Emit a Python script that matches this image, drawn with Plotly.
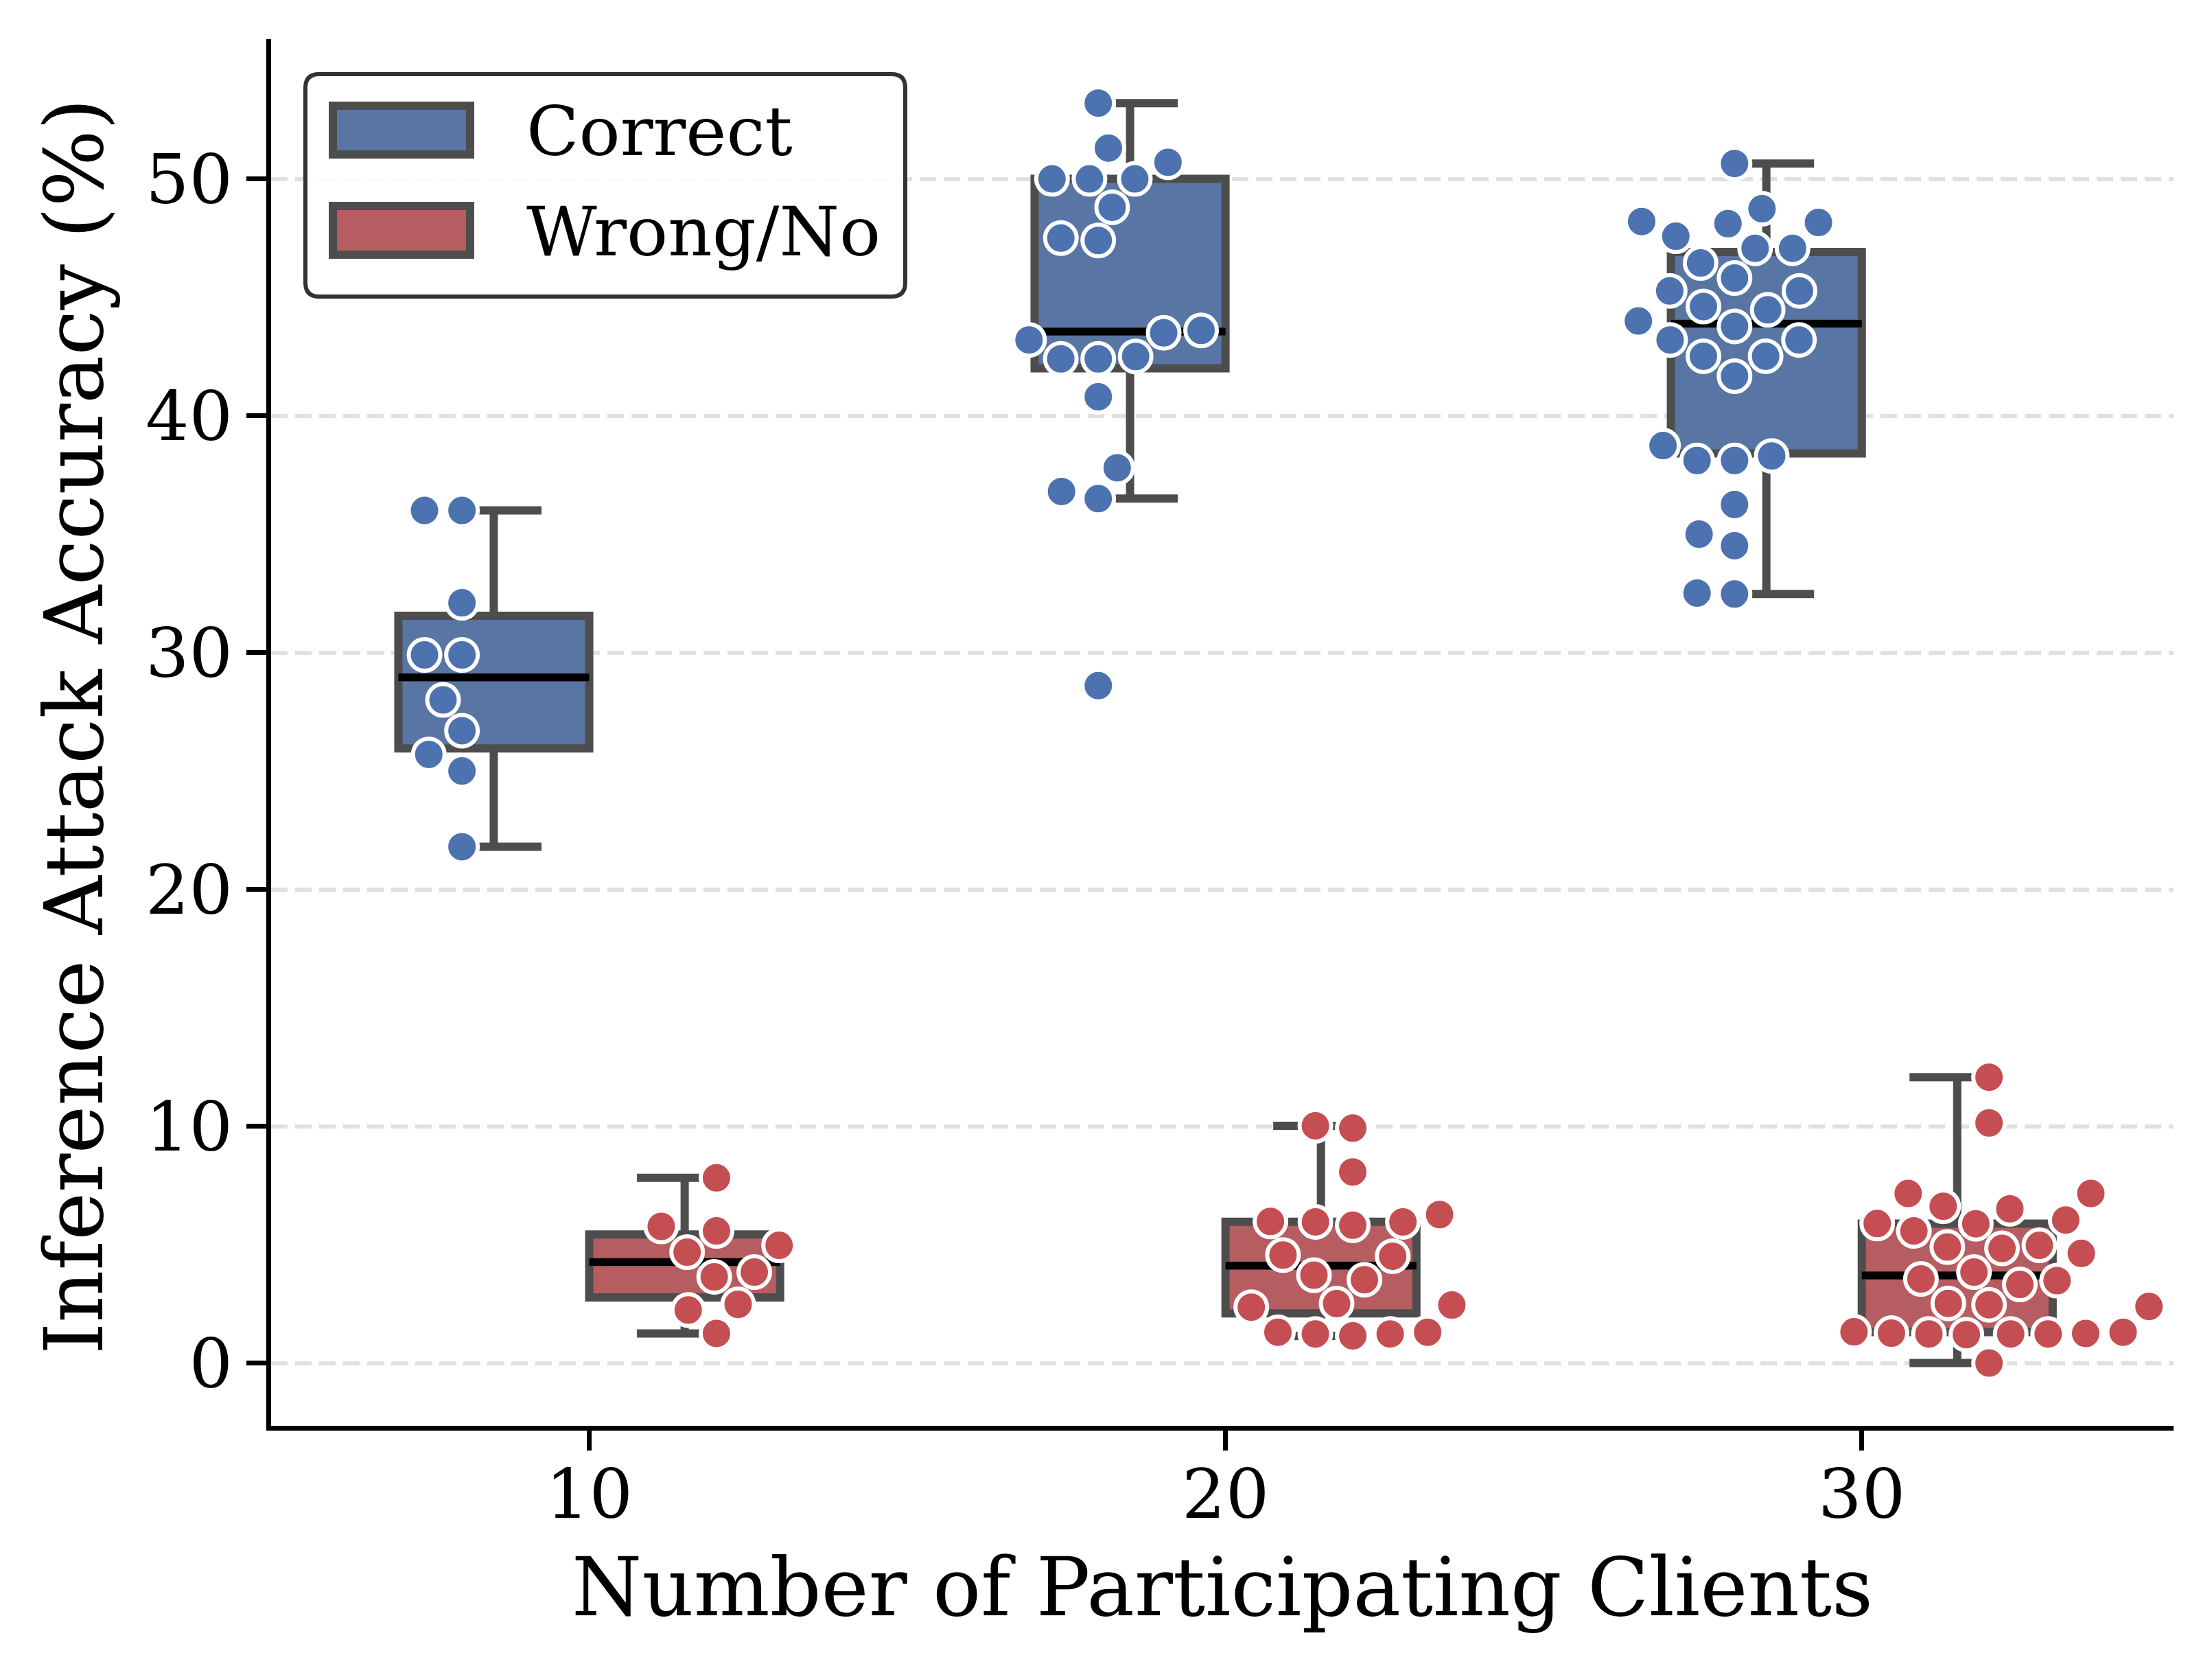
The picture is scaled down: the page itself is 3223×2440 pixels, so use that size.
import numpy as np
import plotly.graph_objects as go

# ---------------- data ----------------
categories = [10, 20, 30]
series_names = ["Correct", "Wrong/No"]

correct_10 = [36.0, 36.0, 32.1, 29.9, 29.9, 28.0, 26.7, 25.7, 25.0, 21.8]
correct_20 = [53.2, 51.3, 50.7, 50.0, 50.0, 50.0, 48.8, 47.5, 47.4, 43.6,
              43.5, 43.2, 42.5, 42.4, 42.4, 40.8, 37.8, 36.8, 36.5, 28.6]
correct_30 = [50.65, 48.74, 48.2, 48.16, 48.11, 47.58, 47.07, 47.07, 46.45, 45.81,
              45.27, 45.27, 44.61, 44.47, 44.0, 43.77, 43.2, 43.2, 42.51, 42.51,
              41.67, 38.74, 38.30, 38.11, 38.11, 36.25, 35.0, 34.51, 32.51, 32.47]

wrong_10 = [7.82, 5.77, 5.58, 4.97, 4.68, 3.84, 3.64, 2.48, 2.24, 1.25]
wrong_20 = [10.02, 9.92, 8.07, 6.27, 5.98, 5.96, 5.96, 5.82, 4.56, 4.51,
            3.71, 3.52, 2.51, 2.45, 2.36, 1.30, 1.30, 1.23, 1.23, 1.15]
wrong_30 = [12.07, 10.14, 7.16, 7.16, 6.62, 6.51, 6.04, 5.89, 5.88, 5.58,
            4.97, 4.90, 4.84, 4.63, 3.84, 3.55, 3.48, 3.32, 2.52, 2.46,
            2.39, 1.32, 1.30, 1.26, 1.25, 1.23, 1.23, 1.23, 1.20, 0.0]

y_ticks = [0, 10, 20, 30, 40, 50]
x_label = "Number of Participating Clients"
y_label = "Inference Attack Accuracy (%)"

groups = {
    "Correct": [correct_10, correct_20, correct_30],
    "Wrong/No": [wrong_10, wrong_20, wrong_30],
}

# ---------------- layout / style ----------------
OFF = 8                      # default <body> margin of the html page
W, H = 3223 - 2 * OFF, 2440 - 2 * OFF
ML, MR, MT, MB = 395 - OFF, 56 - OFF, 57 - OFF, 363 - OFF
PW, PH = W - ML - MR, H - MT - MB
XR = [5.0, 34.9]
YR = [-2.65, 55.9]
PX_X = PW / (XR[1] - XR[0])
PX_Y = PH / (YR[1] - YR[0])

FONT = "DejaVu Serif"
point_color = {"Correct": "#4c72b0", "Wrong/No": "#c44e52"}
box_fill = {"Correct": "#5875a4", "Wrong/No": "#b55d60"}
box_edge = "#4d4d4d"
box_offset = {"Correct": -1.5, "Wrong/No": 1.5}
swarm_offset = {"Correct": -2.0, "Wrong/No": 2.0}
BOX_W = 3.0
MSIZE, MLW = 46, 6


def px2paper_x(p):
    """page pixel -> paper coordinate"""
    return (p - OFF - ML) / PW


def px2paper_y(p):
    return (H - MB - (p - OFF)) / PH


def beeswarm(values, center):
    """seaborn-like beeswarm in pixel space; returns x data positions"""
    vals = np.asarray(values, float)
    order = np.argsort(vals, kind="stable")
    rad = (MSIZE + MLW) / 2.0
    placed = []
    for yv in vals[order] * PX_Y:
        neigh = []
        for xj, yj in reversed(placed):
            if yv - yj < 2 * rad:
                neigh.append((xj, yj))
            else:
                break
        if not neigh:
            placed.append((0.0, yv))
            continue
        cands = [0.0]
        left_first = True
        for xj, yj in neigh:
            dy = yv - yj
            dx = np.sqrt(max((2 * rad) ** 2 - dy ** 2, 0)) * 1.05
            cands += [xj - dx, xj + dx] if left_first else [xj + dx, xj - dx]
            left_first = not left_first
        cands = np.array(cands)
        cands = cands[np.argsort(np.abs(cands), kind="stable")]
        chosen = cands[-1]
        for c in cands:
            if all((c - xj) ** 2 + (yv - yj) ** 2 >= (2 * rad) ** 2 - 1e-9 for xj, yj in neigh):
                chosen = c
                break
        placed.append((chosen, yv))
    offs = np.empty(len(vals))
    offs[order] = [p[0] for p in placed]
    return center + offs / PX_X


fig = go.Figure()

# boxes
for name, data in groups.items():
    q1, med, q3, lo, hi, xs = [], [], [], [], [], []
    for cat, v in zip(categories, data):
        a = np.asarray(v, float)
        p25, p50, p75 = np.percentile(a, [25, 50, 75])
        iqr = p75 - p25
        q1.append(p25)
        med.append(p50)
        q3.append(p75)
        lo.append(a[a >= p25 - 1.5 * iqr].min())
        hi.append(a[a <= p75 + 1.5 * iqr].max())
        xs.append(cat + box_offset[name])
    fig.add_trace(go.Box(
        x=xs, q1=q1, median=med, q3=q3, lowerfence=lo, upperfence=hi,
        width=BOX_W, whiskerwidth=0.5, boxpoints=False,
        fillcolor=box_fill[name], line=dict(color=box_edge, width=12),
        name=name, showlegend=False, hoverinfo="skip",
    ))
    # black median lines
    mx, my = [], []
    for xc, m in zip(xs, med):
        mx += [xc - BOX_W / 2, xc + BOX_W / 2, None]
        my += [m, m, None]
    fig.add_trace(go.Scatter(
        x=mx, y=my, mode="lines", line=dict(color="black", width=11),
        showlegend=False, hoverinfo="skip",
    ))

# swarm points
for name, data in groups.items():
    for cat, v in zip(categories, data):
        xpos = beeswarm(v, cat + swarm_offset[name])
        fig.add_trace(go.Scatter(
            x=xpos, y=v, mode="markers",
            marker=dict(size=MSIZE, color=point_color[name],
                        line=dict(color="white", width=MLW)),
            showlegend=False, hoverinfo="skip",
        ))

# ---------------- custom legend (matplotlib style) ----------------
def rrect_path(x0, y0, x1, y1, r):
    rx = r / PW
    ry = r / PH
    X0, X1 = px2paper_x(x0), px2paper_x(x1)
    Y0, Y1 = px2paper_y(y0), px2paper_y(y1)  # Y0 top (bigger)
    return (f"M {X0+rx},{Y0} L {X1-rx},{Y0} Q {X1},{Y0} {X1},{Y0-ry} "
            f"L {X1},{Y1+ry} Q {X1},{Y1} {X1-rx},{Y1} "
            f"L {X0+rx},{Y1} Q {X0},{Y1} {X0},{Y1+ry} "
            f"L {X0},{Y0-ry} Q {X0},{Y0} {X0+rx},{Y0} Z")


shapes = [dict(type="path", xref="paper", yref="paper",
               path=rrect_path(445, 108, 1319, 432, 20),
               fillcolor="rgba(255,255,255,0.85)",
               line=dict(color="#333333", width=6), layer="above")]
annotations = []
leg_rows = [(154, 225), (300, 371)]
for (ya, yb), name in zip(leg_rows, series_names):
    shapes.append(dict(type="rect", xref="paper", yref="paper",
                       x0=px2paper_x(485), x1=px2paper_x(685),
                       y0=px2paper_y(yb), y1=px2paper_y(ya),
                       fillcolor=box_fill[name],
                       line=dict(color=box_edge, width=12), layer="above"))
    annotations.append(dict(xref="paper", yref="paper",
                            x=px2paper_x(765), y=px2paper_y((ya + yb) / 2 + 2),
                            xanchor="left", yanchor="middle", showarrow=False,
                            text=name, font=dict(family=FONT, size=100, color="black")))

# axis labels
annotations.append(dict(xref="paper", yref="paper",
                        x=px2paper_x(1781), y=px2paper_y(2312),
                        xanchor="center", yanchor="middle", showarrow=False,
                        text=x_label, font=dict(family=FONT, size=117, color="black")))
annotations.append(dict(xref="paper", yref="paper",
                        x=px2paper_x(108), y=px2paper_y(1058),
                        xanchor="center", yanchor="middle", showarrow=False,
                        textangle=-90,
                        text=y_label, font=dict(family=FONT, size=118, color="black")))

fig.update_layout(
    width=W, height=H,
    margin=dict(l=ML, r=MR, t=MT, b=MB, pad=0),
    paper_bgcolor="white", plot_bgcolor="white",
    showlegend=False, boxmode="overlay",
    shapes=shapes, annotations=annotations,
    font=dict(family=FONT, color="black"),
)
fig.update_xaxes(
    range=XR, tickmode="array", tickvals=categories,
    ticktext=[str(c) for c in categories],
    ticks="outside", ticklen=29, tickwidth=6.7, tickcolor="black",
    ticklabelstandoff=-22,
    showline=True, linewidth=6.7, linecolor="black", mirror=False,
    showgrid=False, zeroline=False, automargin=False,
    tickfont=dict(family=FONT, size=100, color="black"),
)
fig.update_yaxes(
    range=YR, tickmode="array", tickvals=y_ticks,
    ticktext=[str(t) for t in y_ticks],
    ticks="outside", ticklen=29, tickwidth=6.7, tickcolor="black",
    showline=True, linewidth=6.7, linecolor="black", mirror=False,
    showgrid=True, gridcolor="#e0e0e0", gridwidth=6, griddash="24px,11px",
    zeroline=False, automargin=False,
    tickfont=dict(family=FONT, size=100, color="black"),
)

fig.write_html("out.html")
